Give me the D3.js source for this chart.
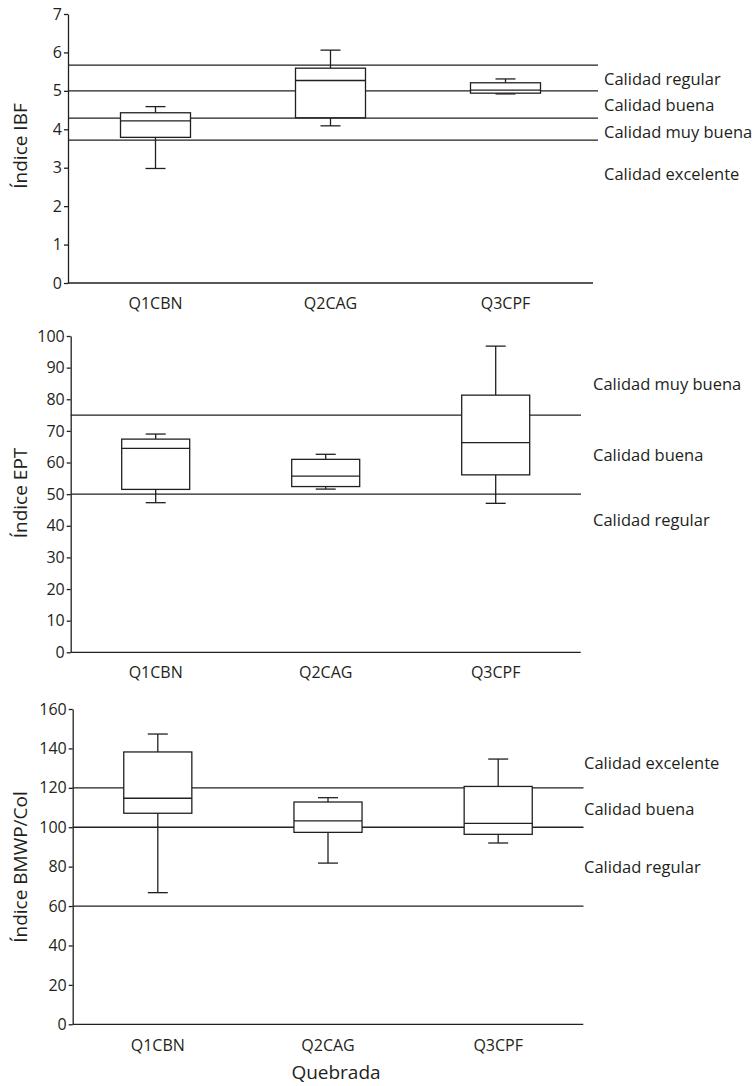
<!DOCTYPE html>
<html>
<head>
<meta charset="utf-8">
<script src="https://cdn.jsdelivr.net/npm/d3@7"></script>
<style>
  html, body { margin: 0; padding: 0; background: #fff; }
  svg { display: block; }
  text { font-family: "Open Sans", "Noto Sans", sans-serif; fill: #231f20; }
</style>
</head>
<body>
<svg id="chart" width="754" height="1086"></svg>
<script>
// ---------- data ----------
const categories = ["Q1CBN", "Q2CAG", "Q3CPF"];

// Índice IBF
const ibfMin = [2.98, 4.09, 4.92];
const ibfQ1  = [3.79, 4.30, 4.94];
const ibfMed = [4.22, 5.27, 5.02];
const ibfQ3  = [4.43, 5.59, 5.21];
const ibfMax = [4.59, 6.06, 5.31];
const ibfTicks = [0, 1, 2, 3, 4, 5, 6, 7];
const ibfThresholds = [5.67, 5.0, 4.29, 3.72];
const ibfZones = ["Calidad regular", "Calidad buena", "Calidad muy buena", "Calidad excelente"];
const ibfZoneValues = [5.32, 4.63, 3.94, 2.84];

// Índice EPT
const eptMin = [47.3, 51.6, 47.1];
const eptQ1  = [51.5, 52.4, 56.1];
const eptMed = [64.5, 55.7, 66.3];
const eptQ3  = [67.4, 61.0, 81.3];
const eptMax = [69.0, 62.6, 96.8];
const eptTicks = [0, 10, 20, 30, 40, 50, 60, 70, 80, 90, 100];
const eptThresholds = [75, 50];
const eptZones = ["Calidad muy buena", "Calidad buena", "Calidad regular"];
const eptZoneValues = [84.8, 62.5, 41.7];

// Índice BMWP/Col
const bmwpMin = [66.8, 81.8, 92.0];
const bmwpQ1  = [107.1, 97.4, 96.4];
const bmwpMed = [114.7, 103.2, 102.0];
const bmwpQ3  = [138.2, 112.8, 120.7];
const bmwpMax = [147.3, 115.0, 134.6];
const bmwpTicks = [0, 20, 40, 60, 80, 100, 120, 140, 160];
const bmwpThresholds = [120, 100, 60];
const bmwpZones = ["Calidad excelente", "Calidad buena", "Calidad regular"];
const bmwpZoneValues = [132.7, 109.1, 79.7];

const xTitle = "Quebrada";

// ---------- layout ----------
const panels = [
  { title: "Índice IBF", min: ibfMin, q1: ibfQ1, med: ibfMed, q3: ibfQ3, max: ibfMax,
    ticks: ibfTicks, thresholds: ibfThresholds, zones: ibfZones, zoneValues: ibfZoneValues,
    x0: 68, x1: 593, yTop: 14, yBot: 283, refEnd: 598, labelX: 604, titleY: 146, xLabDy: 25.5 },
  { title: "Índice EPT", min: eptMin, q1: eptQ1, med: eptMed, q3: eptQ3, max: eptMax,
    ticks: eptTicks, thresholds: eptThresholds, zones: eptZones, zoneValues: eptZoneValues,
    x0: 70.7, x1: 580.7, yTop: 336, yBot: 652.3, refEnd: 581, labelX: 593, titleY: 493, xLabDy: 25.5 },
  { title: "Índice BMWP/Col", min: bmwpMin, q1: bmwpQ1, med: bmwpMed, q3: bmwpQ3, max: bmwpMax,
    ticks: bmwpTicks, thresholds: bmwpThresholds, zones: bmwpZones, zoneValues: bmwpZoneValues,
    x0: 72.7, x1: 583.3, yTop: 709, yBot: 1024.3, refEnd: 583.5, labelX: 584, titleY: 867, xLabDy: 27 }
];

const INK = "#231f20";
const SW = 1.3;
const svg = d3.select("#chart");

panels.forEach(p => {
  const g = svg.append("g");
  const y = d3.scaleLinear()
    .domain([0, d3.max(p.ticks)])
    .range([p.yBot, p.yTop]);
  const x = d3.scaleBand()
    .domain(categories)
    .range([p.x0, p.x1])
    .paddingInner(0).paddingOuter(0);
  const boxW = x.bandwidth() * 0.4;
  const capW = 20;

  // reference lines
  g.selectAll("line.ref").data(p.thresholds).join("line")
    .attr("class", "ref")
    .attr("x1", p.x0).attr("x2", p.refEnd)
    .attr("y1", d => y(d)).attr("y2", d => y(d))
    .attr("stroke", INK).attr("stroke-width", SW);

  // zone labels
  g.selectAll("text.zone").data(p.zones).join("text")
    .attr("class", "zone")
    .attr("x", p.labelX)
    .attr("y", (d, i) => y(p.zoneValues[i]))
    .attr("dy", "0.36em")
    .attr("font-size", 16.5)
    .text(d => d);

  // boxes
  const data = categories.map((c, i) => ({
    c, lo: p.min[i], q1: p.q1[i], med: p.med[i], q3: p.q3[i], hi: p.max[i]
  }));
  const bg = g.selectAll("g.box").data(data).join("g").attr("class", "box");
  const cx = d => x(d.c) + x.bandwidth() / 2;

  // whiskers
  bg.append("line")
    .attr("x1", cx).attr("x2", cx)
    .attr("y1", d => y(d.hi)).attr("y2", d => y(d.q3))
    .attr("stroke", INK).attr("stroke-width", SW);
  bg.append("line")
    .attr("x1", cx).attr("x2", cx)
    .attr("y1", d => y(d.q1)).attr("y2", d => y(d.lo))
    .attr("stroke", INK).attr("stroke-width", SW);
  // caps
  bg.append("line")
    .attr("x1", d => cx(d) - capW / 2).attr("x2", d => cx(d) + capW / 2)
    .attr("y1", d => y(d.hi)).attr("y2", d => y(d.hi))
    .attr("stroke", INK).attr("stroke-width", SW);
  bg.append("line")
    .attr("x1", d => cx(d) - capW / 2).attr("x2", d => cx(d) + capW / 2)
    .attr("y1", d => y(d.lo)).attr("y2", d => y(d.lo))
    .attr("stroke", INK).attr("stroke-width", SW);
  // box
  bg.append("rect")
    .attr("x", d => cx(d) - boxW / 2)
    .attr("width", boxW)
    .attr("y", d => y(d.q3))
    .attr("height", d => y(d.q1) - y(d.q3))
    .attr("fill", "#fff")
    .attr("stroke", INK).attr("stroke-width", SW);
  // median
  bg.append("line")
    .attr("x1", d => cx(d) - boxW / 2).attr("x2", d => cx(d) + boxW / 2)
    .attr("y1", d => y(d.med)).attr("y2", d => y(d.med))
    .attr("stroke", INK).attr("stroke-width", SW);

  // y axis
  const yAxis = d3.axisLeft(y)
    .tickValues(p.ticks)
    .tickFormat(d3.format("d"))
    .tickSize(4).tickSizeOuter(0).tickPadding(2);
  const ya = g.append("g")
    .attr("transform", `translate(${p.x0},0)`)
    .call(yAxis);
  ya.select(".domain").attr("stroke", INK).attr("stroke-width", SW);
  ya.selectAll(".tick line").attr("stroke", INK).attr("stroke-width", SW);
  ya.selectAll(".tick text")
    .attr("font-size", 16)
    .attr("font-family", "'Open Sans', sans-serif")
    .attr("fill", INK);

  // x axis line
  g.append("line")
    .attr("x1", p.x0).attr("x2", p.x1)
    .attr("y1", p.yBot).attr("y2", p.yBot)
    .attr("stroke", INK).attr("stroke-width", SW);

  // x category labels
  g.selectAll("text.cat").data(categories).join("text")
    .attr("class", "cat")
    .attr("x", d => x(d) + x.bandwidth() / 2)
    .attr("y", p.yBot + p.xLabDy)
    .attr("text-anchor", "middle")
    .attr("font-size", 16)
    .text(d => d);

  // y title
  g.append("text")
    .attr("transform", `translate(27,${p.titleY}) rotate(-90)`)
    .attr("text-anchor", "middle")
    .attr("font-size", 19)
    .text(p.title);
});

// x title
svg.append("text")
  .attr("x", 336)
  .attr("y", 1079)
  .attr("text-anchor", "middle")
  .attr("font-size", 19)
  .text(xTitle);
</script>
</body>
</html>
